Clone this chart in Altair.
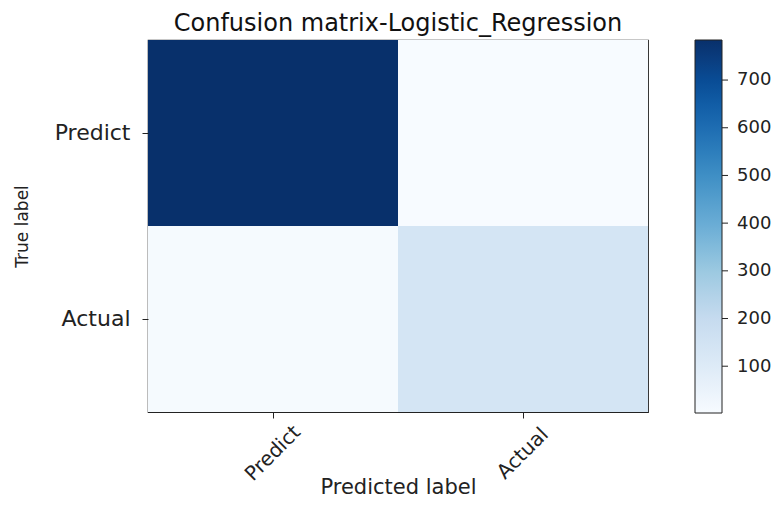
import altair as alt
import pandas as pd
import numpy as np

# ---- data ----
order = ["Predict", "Actual"]
true_labels = ["Predict", "Predict", "Actual", "Actual"]
pred_labels = ["Predict", "Actual", "Predict", "Actual"]
counts = [784, 4, 13, 140]
cbar_ticks = [100, 200, 300, 400, 500, 600, 700]
blues = ["#f7fbff", "#deebf7", "#c6dbef", "#9ecae1", "#6baed6",
         "#4292c6", "#2171b5", "#08519c", "#08306b"]
vmin, vmax = 4, 784

df = pd.DataFrame({"true": true_labels, "pred": pred_labels, "count": counts})
ticks_df = pd.DataFrame({"v": cbar_ticks})
color_domain = [float(v) for v in np.linspace(vmin, vmax, len(blues))]

FONT = "DejaVu Sans"

heat = alt.Chart(df).mark_rect().encode(
    x=alt.X("pred:N", sort=order,
            scale=alt.Scale(paddingInner=0, paddingOuter=0),
            axis=alt.Axis(title="Predicted label", labelAngle=-45,
                          labelAlign="center", labelBaseline="middle",
                          labelPadding=35, tickSize=6, domain=False,
                          labelFontSize=20, titleFontSize=21,
                          titleY=75, titleBaseline="middle")),
    y=alt.Y("true:N", sort=order,
            scale=alt.Scale(paddingInner=0, paddingOuter=0),
            axis=alt.Axis(title="True label", labelAngle=0, labelPadding=12,
                          tickSize=6, domain=False, labelFontSize=22,
                          titleFontSize=17, titleX=-126,
                          titleBaseline="middle")),
    color=alt.Color("count:Q",
                    scale=alt.Scale(domain=color_domain, range=blues),
                    legend=alt.Legend(title=None, orient="none",
                                      legendX=547, legendY=0,
                                      direction="vertical",
                                      gradientLength=373,
                                      gradientThickness=27,
                                      gradientStrokeColor="#222",
                                      gradientStrokeWidth=1,
                                      values=cbar_ticks,
                                      labelFontSize=18, labelOffset=15,
                                      labelColor="#222", labelFont=FONT,
                                      labelOverlap=False, padding=0)),
)

cticks = alt.Chart(ticks_df).mark_rule(color="#222", strokeWidth=1).encode(
    y=alt.Y("v:Q", scale=alt.Scale(domain=[vmin, vmax]), axis=None),
    x=alt.value(574),
    x2=alt.value(580),
)

chart = alt.layer(heat, cticks).resolve_scale(y="independent").properties(
    width=500,
    height=372,
    title=alt.TitleParams("Confusion matrix-Logistic_Regression",
                          fontSize=24, font=FONT, fontWeight="normal",
                          color="#111", offset=4, anchor="middle"),
    autosize=alt.AutoSizeParams(type="none"),
    padding={"left": 140, "top": 32, "right": 127, "bottom": 86},
).configure_view(
    stroke="#222", strokeWidth=1.2
).configure_axis(
    labelFont=FONT, titleFont=FONT, labelColor="#222", titleColor="#222",
    tickColor="#222", titleFontWeight="normal", grid=False
)

chart.save("out.html", embed_options={"renderer": "svg", "actions": False})
